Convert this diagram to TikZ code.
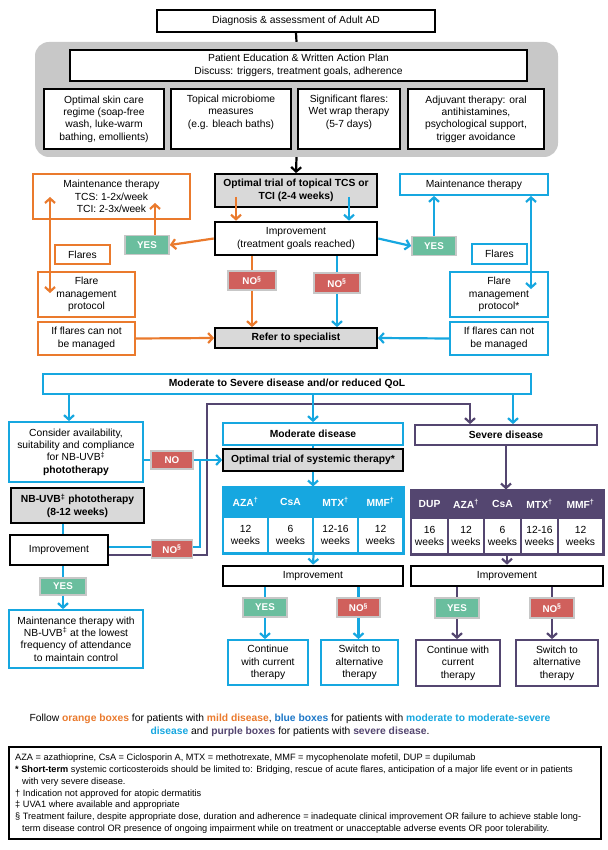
\documentclass[tikz,border=0pt]{standalone}
\usepackage{fontspec}
\setmainfont{Liberation Sans}
\usepackage{xcolor}
\usetikzlibrary{arrows.meta}
\usetikzlibrary{positioning}
\usetikzlibrary{calc}

\definecolor{mildorange}{RGB}{234,122,45}
\definecolor{modblue}{RGB}{22,167,224}
\definecolor{darkblue}{RGB}{30,120,200}
\definecolor{sevpurple}{RGB}{84,70,112}
\definecolor{yesgreen}{RGB}{106,190,158}
\definecolor{nored}{RGB}{208,96,92}
\definecolor{boxgray}{RGB}{217,217,217}
\definecolor{panelgray}{RGB}{200,200,200}

\begin{document}
\begin{tikzpicture}[x=1pt, y=-1pt,
    >={Straight Barb[length=4.5pt,width=10pt]},
    every node/.style={font=\fontsize{10.3}{12.4}\selectfont, align=center, inner sep=1pt},
    sz/.style 2 args={minimum width=#1, minimum height=#2},
    boldtxt/.style={font=\fontsize{10.3}{12.4}\selectfont\bfseries},
    kbox/.style={draw=black, line width=1.8pt, fill=white},
    gbox/.style={kbox, fill=boxgray, boldtxt},
    ibox/.style={draw=black, line width=2.6pt, fill=white},
    obox/.style={draw=mildorange, line width=1.8pt, fill=white},
    bbox/.style={draw=modblue, line width=1.8pt, fill=white},
    pbox/.style={draw=sevpurple, line width=1.8pt, fill=white},
    yesno/.style={draw=black!22, line width=1.6pt, text=white, font=\fontsize{9.8}{11}\selectfont\bfseries, sz={44}{19}},
    yesbox/.style={yesno, fill=yesgreen},
    nobox/.style={yesno, fill=nored},
    oline/.style={draw=mildorange, line width=2.2pt},
    bline/.style={draw=modblue, line width=2.2pt},
    pline/.style={draw=sevpurple, line width=2.2pt},
    kline/.style={draw=black, line width=2.2pt},
  ]
  \fill[white] (0,0) rectangle (607,850);
  \useasboundingbox (0,0) rectangle (607,850);

  % Diagnosis and general measures
  \node[kbox, sz={278}{22}] (diag) at (296,21) {Diagnosis \& assessment of Adult AD};
  \node[fill=panelgray, rounded corners=14pt, sz={523}{115}] (panel) at (296.5,99.5) {};
  \node[kbox, sz={457}{31}] (edu) at (298.5,65.5) {Patient Education \& Written Action Plan\\Discuss: triggers, treatment goals, adherence};
  \node[kbox, sz={120}{60}] (care) at (104,119) {Optimal skin care\\regime (soap-free\\wash, luke-warm\\bathing, emollients)};
  \node[kbox, sz={120}{60}] (micro) at (231,119) {Topical microbiome\\measures\\(e.g. bleach baths)\\\strut};
  \node[kbox, sz={102}{60}] (wet) at (349,119) {Significant flares:\\Wet wrap therapy\\(5-7 days)\\\strut};
  \node[kbox, sz={136}{60}] (adj) at (476,119) {Adjuvant therapy: oral\\antihistamines,\\psychological support,\\trigger avoidance};
  \draw[kline] (diag.south) -- (panel.north);

  % Topical treatment
  \node[gbox, sz={162}{33}] (topical) at (296,190.5) {Optimal trial of topical TCS or\\TCI (2-4 weeks)};
  \node[ibox, sz={162}{33}] (impr1) at (296,238.5) {Improvement\\(treatment goals reached)};
  \node[gbox, sz={162}{20}] (refer) at (296,338) {Refer to specialist};
  \draw[kline, ->] (panel.south) -- (topical.north);

  % mild disease (orange)
  \node[obox, sz={157}{45}] (maintL) at (111.5,196.5) {Maintenance therapy\\TCS: 1-2x/week\\TCI: 2-3x/week};
  \node[obox, sz={55}{19}] (flaresL) at (82.5,254.5) {Flares};
  \node[obox, sz={97}{45}] (flmgL) at (86.5,294.5) {Flare\\management\\protocol};
  \node[obox, sz={97}{33}] (ifL) at (86.5,338.5) {If flares can not\\be managed};
  \node[yesbox] (yesL) at (147,245) {YES};
  \node[nobox, sz={48}{19}] (noL) at (252,280.5) {NO\textsuperscript{§}};

  % moderate disease (blue)
  \node[bbox, sz={148}{21}] (maintR) at (474,184.5) {Maintenance therapy};
  \node[bbox, sz={55}{20}] (flaresR) at (499.5,254) {Flares};
  \node[bbox, sz={98}{45}] (flmgR) at (499,294.5) {Flare\\management\\protocol*};
  \node[bbox, sz={98}{33}] (ifR) at (499,338.5) {If flares can not\\be managed};
  \node[yesbox] (yesR) at (434,246) {YES};
  \node[nobox, sz={46}{20}] (noR) at (337,283) {NO\textsuperscript{§}};

  % arrows of the topical part
  \coordinate (oT) at (236,197);
  \coordinate (bT) at (349,197);
  \coordinate (oM) at (155,203);
  \coordinate (oD1) at (50,197);
  \coordinate (oD2) at (50,293);
  \coordinate (bD1) at (531,196);
  \coordinate (bD2) at (531,289);
  \draw[oline, ->] (oT) -- (oT |- impr1.north);
  \draw[bline, ->] (bT) -- (bT |- impr1.north);
  \draw[oline, ->] (impr1.west) -- (yesL.east);
  \draw[bline, ->] (impr1.east) -- (yesR.west);
  \draw[oline, ->] (yesL.north -| oM) -- (oM);
  \draw[bline, ->] (yesR.north) -- (yesR.north |- maintR.south);
  \draw[oline, <->] (oD1) -- (oD2);
  \draw[bline, <->] (bD1) -- (bD2);
  \draw[oline] (impr1.south -| noL) -- (noL.north);
  \draw[oline, ->] (noL.south) -- (noL.south |- refer.north);
  \draw[bline] (impr1.south -| noR) -- (noR.north);
  \draw[bline, ->] (noR.south) -- (noR.south |- refer.north);
  \draw[oline, ->] (ifL.east) -- (refer.west);
  \draw[bline, ->] (ifR.west) -- (refer.east);

  % Moderate to severe disease
  \node[bbox, sz={488}{20}, boldtxt] (modsev) at (287,384) {Moderate to Severe disease and/or reduced QoL};
  \node[bbox, sz={134}{60}] (consider) at (76,452) {Consider availability,\\suitability and compliance\\for NB-UVB\textsuperscript{‡}\\\textbf{phototherapy}};
  \node[gbox, sz={133}{35}] (nbuvb) at (77.5,505.5) {NB-UVB\textsuperscript{‡} phototherapy\\(8-12 weeks)};
  \node[ibox, sz={98}{30}] (impr2) at (59,550) {Improvement};
  \node[bbox, sz={134}{58}] (maint2) at (76,639) {Maintenance therapy with\\NB-UVB\textsuperscript{‡} at the lowest\\frequency of attendance\\to maintain control};
  \node[yesbox, sz={46}{17}] (yes2) at (63,586.5) {YES};
  \node[nobox, sz={42}{18}] (noC) at (172,460) {NO};

  % moderate branch
  \node[bbox, sz={180}{22}, boldtxt] (moddis) at (313,434) {Moderate disease};
  \node[gbox, sz={180}{22}] (systrial) at (313,460) {Optimal trial of systemic therapy*};
  \foreach \drug/\wk [count=\i] in {AZA\textsuperscript{†}/12, CsA/6, MTX\textsuperscript{†}/12-16, MMF\textsuperscript{†}/12}{
    \node[fill=modblue, draw=modblue, line width=1pt, text=white, boldtxt, sz={45}{30}] (mh\i) at ({200.5+45*\i},502) {\drug};
    \node[draw=modblue, line width=1.2pt, sz={45}{36}] (mb\i) at ({200.5+45*\i},535) {\wk\\weeks};
  }
  \draw[modblue, line width=1.8pt] (mh1.north west) rectangle (mb4.south east);
  \node[ibox, sz={180}{20}] (impr3) at (313,576) {Improvement};
  \node[bbox, sz={80}{45}] (cont3) at (268,662.5) {Continue\\with current\\therapy};
  \node[bbox, sz={77}{45}] (switch3) at (359.5,662.5) {Switch to\\alternative\\therapy};
  \node[yesbox, sz={44}{19}] (yes3) at (265,607.5) {YES};
  \node[nobox, sz={43}{19}] (no3) at (358.5,607.5) {NO\textsuperscript{§}};

  % severe branch
  \node[pbox, sz={182}{20}, boldtxt] (sevdis) at (506,435) {Severe disease};
  \foreach \cx/\cw/\drug/\wk [count=\i] in {429.5/37/DUP/16, 466/36/AZA\textsuperscript{†}/12, 502.5/37/CsA/6, 539.5/37/MTX\textsuperscript{†}/12-16, 580.5/45/MMF\textsuperscript{†}/12}{
    \node[fill=sevpurple, draw=sevpurple, line width=1pt, text=white, boldtxt, sz={\cw}{28}] (sh\i) at (\cx,504) {\drug};
    \node[draw=sevpurple, line width=1.2pt, sz={\cw}{36}] (sb\i) at (\cx,536) {\wk\\weeks};
  }
  \draw[sevpurple, line width=1.8pt] (sh1.north west) rectangle (sb5.south east);
  \node[ibox, sz={192}{20}] (impr4) at (507,576) {Improvement};
  \node[pbox, sz={84}{46}] (cont4) at (458,663) {Continue with\\current\\therapy};
  \node[pbox, sz={82}{46}] (switch4) at (557,663) {Switch to\\alternative\\therapy};
  \node[yesbox, sz={44}{20}] (yes4) at (457,608) {YES};
  \node[nobox, sz={44}{20}] (no4) at (552,608) {NO\textsuperscript{§}};

  % connectors of the systemic part
  \coordinate (bJ) at (200,460);
  \coordinate (pJ) at (207,404);
  \draw[pline, ->] ([yshift=-5pt]impr2.east) -| (pJ) -| ([xshift=-36pt]sevdis.north);
  \draw[bline] ([yshift=3pt]impr2.east) -| (bJ);
  \draw[bline, ->] ([xshift=-7pt]consider.north |- modsev.south) -- ([xshift=-7pt]consider.north);
  \draw[bline, ->] (moddis.north |- modsev.south) -- (moddis.north);
  \draw[bline, ->] ([xshift=7pt]sevdis.north |- modsev.south) -- ([xshift=7pt]sevdis.north);
  \draw[bline] (consider.east |- noC) -- (noC.west);
  \draw[bline, ->] (noC.east) -- (systrial.west);
  \draw[bline] (nbuvb.south -| yes2) -- (impr2.north -| yes2);
  \draw[bline] (impr2.south -| yes2) -- (yes2.north);
  \draw[bline, ->] (yes2.south) -- (yes2.south |- maint2.north);
  \node[nobox, sz={41}{18}] (noI) at (172,549) {NO\textsuperscript{§}};
  \draw[bline] (moddis.south) -- (systrial.north);
  \draw[bline, ->] (systrial.south) -- (systrial.south |- mh1.north);
  \draw[bline, ->] (mb2.south east) -- (impr3.north);
  \draw[bline] (impr3.south -| yes3) -- (yes3.north);
  \draw[bline, ->] (yes3.south) -- (yes3.south |- cont3.north);
  \draw[bline] (impr3.south -| no3) -- (no3.north);
  \draw[bline, ->] (no3.south) -- (no3.south |- switch3.north);
  \draw[pline, ->] (sevdis.south) -- (sevdis.south |- sh1.north);
  \draw[pline, ->] (impr4.north |- sb1.south) -- (impr4.north);
  \draw[pline] (impr4.south -| yes4) -- (yes4.north);
  \draw[pline, ->] (yes4.south) -- (yes4.south |- cont4.north);
  \draw[pline] (impr4.south -| no4) -- (no4.north);
  \draw[pline, ->] (no4.south) -- (no4.south |- switch4.north);

  % Labels
  \node[font=\fontsize{10.3}{13}\selectfont] (follow) at (290,725) {Follow \textcolor{mildorange}{\textbf{orange boxes}} for patients with \textcolor{mildorange}{\textbf{mild disease}}, \textcolor{darkblue}{\textbf{blue boxes}} for patients with \textcolor{modblue}{\textbf{moderate to moderate-severe}}\\\textcolor{modblue}{\textbf{disease}} and \textcolor{sevpurple}{\textbf{purple boxes}} for patients with \textcolor{sevpurple}{\textbf{severe disease}}.};
  \node[draw=black, line width=1.8pt, sz={592}{92}] (legend) at (305,793) {};
  \node[anchor=north west, align=left, inner sep=0pt, font=\fontsize{9.2}{11.9}\selectfont] (notes) at (15,753.5) {AZA = azathioprine, CsA = Ciclosporin A, MTX = methotrexate, MMF = mycophenolate mofetil, DUP = dupilumab\\
    \textbf{*} \textbf{Short-term} systemic corticosteroids should be limited to: Bridging, rescue of acute flares, anticipation of a major life event or in patients\\
    \hspace*{7pt}with very severe disease.\\
    † Indication not approved for atopic dermatitis\\
    ‡ UVA1 where available and appropriate\\
    § Treatment failure, despite appropriate dose, duration and adherence = inadequate clinical improvement OR failure to achieve stable long-\\
    \hspace*{7pt}term disease control OR presence of ongoing impairment while on treatment or unacceptable adverse events OR poor tolerability.};
\end{tikzpicture}
\end{document}
